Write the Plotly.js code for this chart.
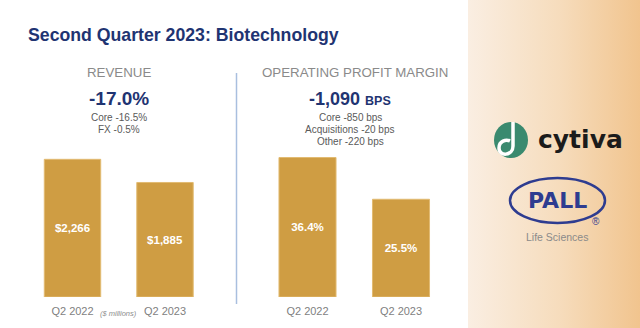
<!DOCTYPE html>
<html>
<head>
<meta charset="utf-8">
<script src="https://cdn.plot.ly/plotly-3.0.1.min.js"></script>
<style>
  html, body { margin: 0; padding: 0; background: #ffffff; }
  #chart {
    width: 640px; height: 328px;
    background: linear-gradient(to right, #ffffff 0px, #ffffff 468px, #faeee2 468px, #f6dcbc 560px, #f1c48e 640px);
  }
</style>
</head>
<body>
<div id="chart"></div>
<script>
// ---- data ----
const categories = ['Q2 2022', 'Q2 2023'];
const revenue = [2266, 1885];              // $ millions
const opMargin = [36.4, 25.5];             // %
const revenueChange = '-17.0%';
const revenueNotes = ['Core -16.5%', 'FX -0.5%'];
const marginChange = '-1,090';
const marginUnit = 'BPS';
const marginNotes = ['Core -850 bps', 'Acquisitions -20 bps', 'Other -220 bps'];
const chartTitle = 'Second Quarter 2023: Biotechnology';
const leftHeader = 'REVENUE';
const rightHeader = 'OPERATING PROFIT MARGIN';
const unitNote = '($ millions)';

// ---- helpers ----
const W = 640, H = 328;
const px = x => x / W;
const py = y => 1 - y / H;
const ARIAL = '"Liberation Sans", Arial, Helvetica, sans-serif';
const GOLD = '#cf9d43';
const NAVY = '#1f3472';

const traces = [
  {
    type: 'bar', x: categories, y: revenue, xaxis: 'x', yaxis: 'y',
    marker: { color: GOLD, line: { color: '#e2bb72', width: 1 } },
    texttemplate: '$%{y:,}', textposition: 'inside', insidetextanchor: 'middle',
    textfont: { family: ARIAL, size: 11.5, color: '#ffffff', weight: 'bold' },
    hoverinfo: 'skip'
  },
  {
    type: 'bar', x: categories, y: opMargin, xaxis: 'x2', yaxis: 'y2',
    marker: { color: GOLD, line: { color: '#e2bb72', width: 1 } },
    texttemplate: '%{y:.1f}%', textposition: 'inside', insidetextanchor: 'middle',
    textfont: { family: ARIAL, size: 11.5, color: '#ffffff', weight: 'bold' },
    hoverinfo: 'skip'
  }
];

const xaxisBase = {
  showgrid: false, zeroline: false, showline: false, ticks: '',
  tickfont: { family: ARIAL, size: 11, color: '#7f7f7f' },
  ticklabelstandoff: 6,
  fixedrange: true
};
const yaxisBase = { visible: false, showgrid: false, zeroline: false, fixedrange: true };

const ann = (text, x, y, size, color, opts = {}) => Object.assign({
  text, x: px(x), y: py(y), xref: 'paper', yref: 'paper',
  xanchor: 'center', yanchor: 'middle', showarrow: false,
  font: { family: ARIAL, size, color }
}, opts);

const annotations = [
  ann(chartTitle, 26, 35, 17.7, NAVY, { xanchor: 'left', font: { family: ARIAL, size: 17.7, color: NAVY, weight: 'bold' } }),
  ann(leftHeader, 119, 73, 13.3, '#8a8a8a'),
  ann(rightHeader, 355, 73, 13.3, '#8a8a8a'),
  ann(revenueChange, 119, 99, 19, NAVY, { font: { family: ARIAL, size: 19, color: NAVY, weight: 'bold' } }),
  ann(marginChange + ' <span style="font-size:12.5px">' + marginUnit + '</span>', 350, 99, 18, NAVY,
      { font: { family: ARIAL, size: 18, color: NAVY, weight: 'bold' } }),
  ann(unitNote, 118, 313, 7.5, '#8c8c8c', { font: { family: ARIAL, size: 7.5, color: '#8c8c8c', style: 'italic' } }),
  // logos
  ann('cytiva', 580, 139, 25, '#1b1b1b', { font: { family: '"DejaVu Sans", sans-serif', size: 25, color: '#1b1b1b', weight: 'bold' } }),
  ann('PALL', 557, 200, 22, '#2e3c90', { font: { family: '"DejaVu Sans", sans-serif', size: 22, color: '#2e3c90', weight: 'bold' } }),
  ann('®', 596, 221, 10, '#2e3c90'),
  ann('Life Sciences', 557, 237, 10.5, '#8a8a8a')
];
revenueNotes.forEach((t, i) => annotations.push(ann(t, 119, 117 + i * 12.5, 10, '#5a5a5a')));
marginNotes.forEach((t, i) => annotations.push(ann(t, 350, 117 + i * 12.5, 10, '#5a5a5a')));

const shapes = [
  // divider
  { type: 'line', xref: 'paper', yref: 'paper', x0: px(236.5), x1: px(236.5), y0: py(73), y1: py(304),
    line: { color: '#a9bfdf', width: 1.5 } },
  // cytiva mark
  { type: 'circle', xref: 'paper', yref: 'paper', x0: px(494), x1: px(528), y0: py(122), y1: py(158),
    fillcolor: '#3a8a6f', line: { width: 0 } },
  { type: 'path', xref: 'paper', yref: 'paper',
    path: `M ${px(513)} ${py(122)} L ${px(513)} ${py(146)} C ${px(513)} ${py(156)} ${px(499)} ${py(157)} ${px(499)} ${py(148)} C ${px(499)} ${py(141)} ${px(506)} ${py(139)} ${px(510)} ${py(141)}`,
    line: { color: '#ffffff', width: 3.5 } },
  // PALL ellipse
  { type: 'circle', xref: 'paper', yref: 'paper', x0: px(510), x1: px(605), y0: py(178), y1: py(223),
    fillcolor: 'rgba(0,0,0,0)', line: { color: '#2e3c90', width: 2.5 } }
];

const layout = {
  width: W, height: H,
  margin: { l: 0, r: 0, t: 0, b: 0 },
  paper_bgcolor: 'rgba(0,0,0,0)', plot_bgcolor: 'rgba(0,0,0,0)',
  showlegend: false, bargap: 0.39,
  xaxis: Object.assign({}, xaxisBase, { domain: [26.25 / W, 211.25 / W], anchor: 'y' }),
  yaxis: Object.assign({}, yaxisBase, { domain: [31 / H, 1 - 145.1 / H], range: [0, 2500], anchor: 'x' }),
  xaxis2: Object.assign({}, xaxisBase, { domain: [260.75 / W, 447.75 / W], anchor: 'y2' }),
  yaxis2: Object.assign({}, yaxisBase, { domain: [31 / H, 1 - 143.7 / H], range: [0, 40], anchor: 'x2' }),
  annotations, shapes
};

Plotly.newPlot('chart', traces, layout, { displayModeBar: false, staticPlot: true });
</script>
</body>
</html>
